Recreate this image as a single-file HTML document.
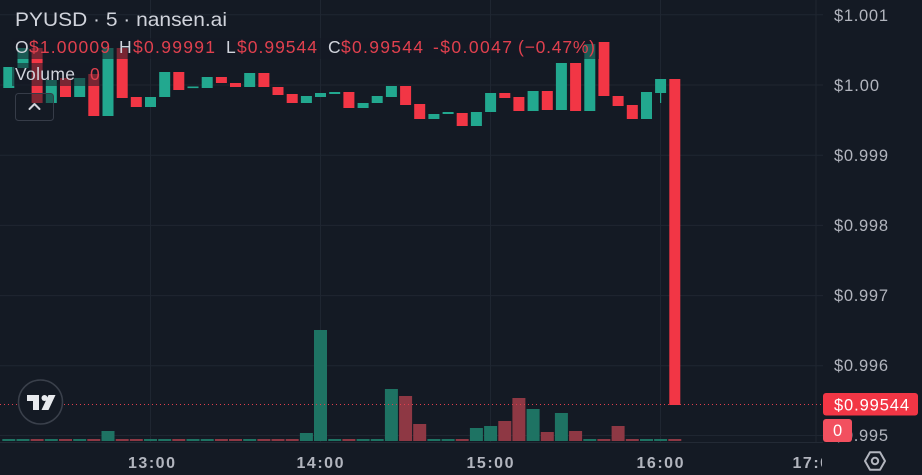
<!DOCTYPE html>
<html><head><meta charset="utf-8"><style>
html,body{margin:0;padding:0;background:#141a24;width:922px;height:475px;overflow:hidden}
svg{display:block}
text{font-family:"Liberation Sans",sans-serif}
</style></head><body>
<svg width="922" height="475" viewBox="0 0 922 475" xmlns="http://www.w3.org/2000/svg">
<rect width="922" height="475" fill="#141a24"/>
<!-- grid -->
<g stroke="#1f2631" stroke-width="1">
<line x1="0" y1="14.8" x2="823" y2="14.8"/>
<line x1="0" y1="85" x2="823" y2="85"/>
<line x1="0" y1="155.2" x2="823" y2="155.2"/>
<line x1="0" y1="225.4" x2="823" y2="225.4"/>
<line x1="0" y1="295.6" x2="823" y2="295.6"/>
<line x1="0" y1="365.8" x2="823" y2="365.8"/>
<line x1="0" y1="435.5" x2="823" y2="435.5"/>
<line x1="150.5" y1="0" x2="150.5" y2="443"/>
<line x1="320.5" y1="0" x2="320.5" y2="443"/>
<line x1="490.5" y1="0" x2="490.5" y2="443"/>
<line x1="660.5" y1="0" x2="660.5" y2="443"/>
<line x1="816" y1="0" x2="816" y2="443"/>
</g>
<line x1="0" y1="442.5" x2="823" y2="442.5" stroke="#232a35" stroke-width="1"/>

<!-- volume -->
<g>
<!-- tiny zero volume bars -->
<g fill="#1e7363">
<rect x="2.3" y="439" width="13" height="2"/><rect x="16.5" y="439" width="13" height="2"/><rect x="44.8" y="439" width="13" height="2"/><rect x="73.2" y="439" width="13" height="2"/>
<rect x="144" y="439" width="13" height="2"/><rect x="158.2" y="439" width="13" height="2"/><rect x="186.5" y="439" width="13" height="2"/><rect x="200.7" y="439" width="13" height="2"/><rect x="243.2" y="439" width="13" height="2"/>
<rect x="328.2" y="439" width="13" height="2"/><rect x="356.6" y="439" width="13" height="2"/><rect x="370.7" y="439" width="13" height="2"/>
<rect x="427.4" y="439" width="13" height="2"/><rect x="441.6" y="439" width="13" height="2"/>
<rect x="583.3" y="439" width="13" height="2"/><rect x="640" y="439" width="13" height="2"/><rect x="654.1" y="439" width="13" height="2"/>
</g>
<g fill="#8e3844">
<rect x="30.6" y="439" width="13" height="2"/><rect x="59" y="439" width="13" height="2"/><rect x="87.3" y="439" width="13" height="2"/><rect x="115.7" y="439" width="13" height="2"/><rect x="129.8" y="439" width="13" height="2"/>
<rect x="172.3" y="439" width="13" height="2"/><rect x="214.9" y="439" width="13" height="2"/><rect x="229" y="439" width="13" height="2"/><rect x="257.4" y="439" width="13" height="2"/><rect x="271.5" y="439" width="13" height="2"/><rect x="285.7" y="439" width="13" height="2"/>
<rect x="342.4" y="439" width="13" height="2"/><rect x="455.7" y="439" width="13" height="2"/><rect x="597.4" y="439" width="13" height="2"/><rect x="625.8" y="439" width="13" height="2"/><rect x="668.3" y="439" width="13" height="2"/>
</g>
<g fill="#1e7363">
<rect x="101.5" y="431" width="13" height="10"/>
<rect x="299.9" y="433" width="13" height="8"/>
<rect x="314" y="330" width="13" height="111"/>
<rect x="384.9" y="389" width="13" height="52"/>
<rect x="469.9" y="428" width="13" height="13"/>
<rect x="484.1" y="426" width="13" height="15"/>
<rect x="526.6" y="409" width="13" height="32"/>
<rect x="554.9" y="413" width="13" height="28"/>
</g>
<g fill="#8e3844">
<rect x="399.1" y="396" width="13" height="45"/>
<rect x="413.2" y="424" width="13" height="17"/>
<rect x="498.3" y="421" width="13" height="20"/>
<rect x="512.4" y="398" width="13" height="43"/>
<rect x="540.8" y="432" width="13" height="9"/>
<rect x="569.1" y="431" width="13" height="10"/>
<rect x="611.6" y="426" width="13" height="15"/>
</g>
</g>

<!-- candles -->
<g fill="#22a88f">
<rect x="3.3" y="67" width="11" height="21"/>
<rect x="17.5" y="48" width="11" height="20"/>
<rect x="45.8" y="80" width="11" height="23"/>
<rect x="74.2" y="78" width="11" height="19"/>
<rect x="102.5" y="48" width="11" height="68"/>
<rect x="145" y="97" width="11" height="10"/>
<rect x="159.2" y="72" width="11" height="25"/>
<rect x="187.5" y="86.5" width="11" height="1.6"/>
<rect x="201.7" y="77" width="11" height="11"/>
<rect x="244.2" y="73" width="11" height="14"/>
<rect x="300.9" y="96" width="11" height="7"/>
<rect x="315" y="93" width="11" height="4"/>
<rect x="329.2" y="92" width="11" height="2"/>
<rect x="357.6" y="103" width="11" height="5"/>
<rect x="371.7" y="96" width="11" height="7"/>
<rect x="385.9" y="86" width="11" height="11"/>
<rect x="428.4" y="114" width="11" height="5"/>
<rect x="442.6" y="112" width="11" height="2"/>
<rect x="470.9" y="112" width="11" height="14"/>
<rect x="485.1" y="93" width="11" height="19"/>
<rect x="527.6" y="91" width="11" height="20"/>
<rect x="555.9" y="63" width="11" height="47"/>
<rect x="584.3" y="44" width="11" height="67"/>
<rect x="641" y="92" width="11" height="27"/>
<rect x="655.1" y="79" width="11" height="14"/>
<rect x="660" y="93" width="1.2" height="10"/>
</g>
<g fill="#f23645">
<rect x="31.6" y="48" width="11" height="55"/>
<rect x="60" y="78" width="11" height="19"/>
<rect x="88.3" y="74" width="11" height="42"/>
<rect x="116.7" y="48" width="11" height="50"/>
<rect x="130.8" y="97" width="11" height="10"/>
<rect x="173.3" y="72" width="11" height="18"/>
<rect x="215.9" y="77" width="11" height="6"/>
<rect x="230" y="83" width="11" height="4"/>
<rect x="258.4" y="73" width="11" height="14"/>
<rect x="272.5" y="87" width="11" height="8"/>
<rect x="286.7" y="94" width="11" height="9"/>
<rect x="343.4" y="92" width="11" height="16"/>
<rect x="400.1" y="86" width="11" height="19"/>
<rect x="414.2" y="104" width="11" height="15"/>
<rect x="456.7" y="113" width="11" height="13"/>
<rect x="499.3" y="93" width="11" height="5"/>
<rect x="513.4" y="97" width="11" height="14"/>
<rect x="541.8" y="91" width="11" height="19"/>
<rect x="570.1" y="63" width="11" height="48"/>
<rect x="598.4" y="42" width="11" height="54"/>
<rect x="612.6" y="96" width="11" height="10"/>
<rect x="626.8" y="105" width="11" height="14"/>
<rect x="669.3" y="79" width="11" height="326"/>
</g>

<!-- price line -->
<line x1="0" y1="404.5" x2="823" y2="404.5" stroke="#e0404e" stroke-width="1" stroke-dasharray="1 3"/>

<!-- legend backgrounds (dim) -->
<rect x="12" y="38" width="587" height="21" fill="#141a24" fill-opacity="0.55"/>
<rect x="12" y="63" width="88" height="23" fill="#141a24" fill-opacity="0.55"/>

<!-- legend text -->
<text x="15" y="26" font-size="19.5" fill="#d1d4dc" textLength="212" lengthAdjust="spacingAndGlyphs">PYUSD · 5 · nansen.ai</text>
<g font-size="17.5">
<text x="15" y="53" fill="#d1d4dc" textLength="12">O</text>
<text x="29" y="53" fill="#e0404e" textLength="81">$1.00009</text>
<text x="119" y="53" fill="#d1d4dc" textLength="12">H</text>
<text x="133" y="53" fill="#e0404e" textLength="82">$0.99991</text>
<text x="226" y="53" fill="#d1d4dc" textLength="9">L</text>
<text x="237" y="53" fill="#e0404e" textLength="80">$0.99544</text>
<text x="328" y="53" fill="#d1d4dc" textLength="11">C</text>
<text x="341" y="53" fill="#e0404e" textLength="82">$0.99544</text>
<text x="433" y="53" fill="#e0404e" textLength="79">-$0.0047</text>
<text x="518" y="53" fill="#e0404e" textLength="77">(−0.47%)</text>
<text x="15" y="80" fill="#d1d4dc" textLength="60">Volume</text>
<text x="90" y="80" fill="#e0404e">0</text>
</g>

<!-- collapse button -->
<rect x="15.5" y="93.5" width="38" height="27" rx="3" fill="#141a24" fill-opacity="0.5" stroke="#363c48" stroke-width="1"/>
<polyline points="29.5,109 34.5,104 39.5,109" fill="none" stroke="#d1d4dc" stroke-width="2" stroke-linecap="round" stroke-linejoin="round"/>

<!-- TV logo -->
<circle cx="40.5" cy="402" r="22" fill="#141a24" stroke="#3a404b" stroke-width="1.5"/>
<g fill="#e8eaee">
<rect x="27" y="395" width="12" height="6"/>
<rect x="33" y="395" width="6" height="15"/>
<circle cx="44.5" cy="398" r="3"/>
<polygon points="48.5,395 55.5,395 48.5,410 41.5,410"/>
</g>

<!-- price axis labels -->
<g font-size="16.5" fill="#b2b5be">
<text x="834" y="21" textLength="54">$1.001</text>
<text x="834" y="91" textLength="45">$1.00</text>
<text x="834" y="161" textLength="54">$0.999</text>
<text x="834" y="231" textLength="54">$0.998</text>
<text x="834" y="301" textLength="54">$0.997</text>
<text x="834" y="371" textLength="54">$0.996</text>
<text x="834" y="441" textLength="54">$0.995</text>
</g>
<rect x="823" y="393" width="95" height="22.5" rx="3" fill="#f23645"/>
<text x="834" y="410.5" font-size="16.5" fill="#ffffff" textLength="75">$0.99544</text>
<rect x="823" y="419" width="29" height="23" rx="3" fill="#f2505f"/>
<text x="833" y="436" font-size="16.5" fill="#ffffff">0</text>

<!-- time axis -->
<defs><clipPath id="tc"><rect x="0" y="443" width="822" height="32"/></clipPath></defs>
<g font-size="16" font-weight="bold" fill="#b2b5be" text-anchor="middle" clip-path="url(#tc)">
<text x="151.5" y="468" textLength="47">13:00</text>
<text x="320" y="468" textLength="47">14:00</text>
<text x="490" y="468" textLength="47">15:00</text>
<text x="660" y="468" textLength="47">16:00</text>
<text x="816" y="468" textLength="47">17:00</text>
</g>

<!-- settings icon -->
<polygon points="885,461 880,469.7 870,469.7 865,461 870,452.3 880,452.3" fill="none" stroke="#b2b5be" stroke-width="2" stroke-linejoin="round"/>
<circle cx="875" cy="461" r="3.2" fill="none" stroke="#b2b5be" stroke-width="2"/>
</svg>
</body></html>
